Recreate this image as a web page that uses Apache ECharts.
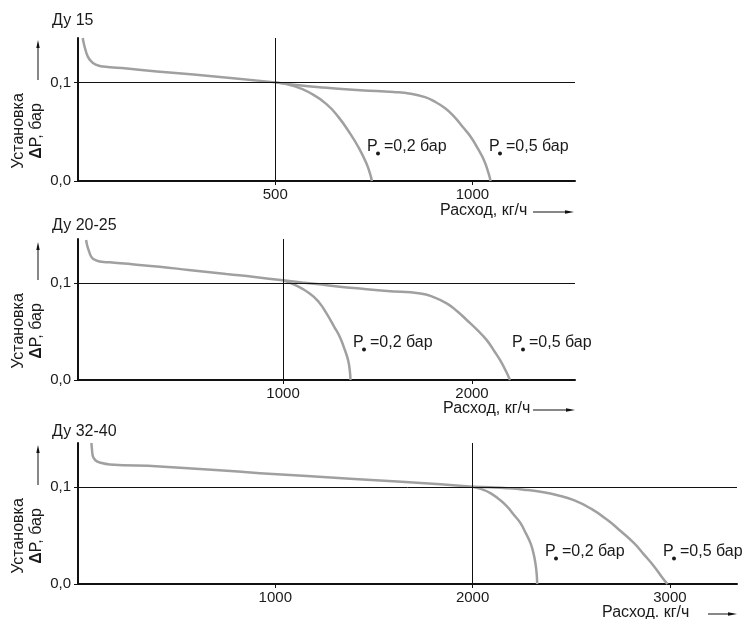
<!DOCTYPE html>
<html><head><meta charset="utf-8">
<script src="https://cdn.jsdelivr.net/npm/echarts@6/dist/echarts.min.js"></script>
<style>html,body{margin:0;padding:0;background:#fff}#c{width:744px;height:619px}</style>
</head><body><div id="c"></div>
<script>
// ---- data ----
const titles = ['Ду 15', 'Ду 20-25', 'Ду 32-40'];
const xTickValues = [[500, 1000], [1000, 2000], [1000, 2000, 3000]];
const yTickValues = [0, 0.1];
const refX = [500, 1000, 2000];
const refY = 0.1;
const xMin = [0, -85, 0];
const xMax = [1260, 2545, 3340];
const yMax = 0.145;
const xNames = ['Расход, кг/ч', 'Расход, кг/ч', 'Расход. кг/ч'];
const curveTexts = ['=0,2 бар', '=0,5 бар'];

const main1 = [[12,0.145],[15,0.139],[19,0.133],[24,0.127],[32,0.122],[45,0.118],[64,0.116],[124,0.114],[200,0.111],[293,0.108],[400,0.104],[500,0.1]];
const p02_1 = [[500,0.1],[550,0.096],[590,0.089],[630,0.078],[660,0.065],[690,0.048],[710,0.035],[730,0.019],[740,0.008],[745,0]];
const p05_1 = [[500,0.1],[560,0.097],[631,0.0946],[716,0.092],[800,0.0902],[843,0.0885],[880,0.085],[902,0.081],[930,0.074],[953,0.0656],[975,0.055],[995,0.0452],[1015,0.032],[1029,0.0214],[1040,0.009],[1046,0]];

const main2 = [[-42,0.144],[-36,0.138],[-26,0.132],[-12,0.126],[11,0.123],[40,0.1215],[82,0.121],[200,0.119],[347,0.1164],[500,0.1132],[700,0.109],[850,0.106],[1000,0.1025]];
const p02_2 = [[1000,0.1025],[1060,0.098],[1141,0.089],[1190,0.080],[1230,0.0685],[1270,0.055],[1300,0.0445],[1325,0.032],[1344,0.0206],[1353,0.01],[1357,0]];
const p05_2 = [[1000,0.1025],[1100,0.1003],[1177,0.0987],[1300,0.096],[1407,0.094],[1550,0.0915],[1727,0.089],[1800,0.085],[1866,0.0788],[1920,0.071],[1972,0.0617],[2030,0.051],[2078,0.041],[2120,0.029],[2148,0.0206],[2180,0.009],[2201,0]];

const main3 = [[68,0.145],[71,0.138],[76,0.131],[90,0.127],[110,0.125],[161,0.123],[415,0.1208],[922,0.114],[1400,0.108],[1837,0.1026],[2000,0.1]];
const p02_3 = [[2000,0.1],[2045,0.0975],[2090,0.0935],[2135,0.087],[2174,0.0798],[2210,0.071],[2242,0.0628],[2270,0.052],[2293,0.0423],[2308,0.032],[2318,0.0217],[2325,0.01],[2327,0]];
const p05_3 = [[2000,0.1],[2090,0.0994],[2175,0.0985],[2260,0.097],[2344,0.0948],[2430,0.0913],[2513,0.0862],[2600,0.0775],[2682,0.066],[2750,0.0545],[2817,0.0422],[2870,0.03],[2919,0.0183],[2960,0.007],[2987,0]];

const panels = [[main1, p02_1, p05_1], [main2, p02_2, p05_2], [main3, p02_3, p05_3]];

// ---- layout / style ----
const FONT = '"Liberation Sans", Arial, sans-serif';
const TXT = '#1a1a1a';
const CURVE = '#a0a0a0';
const grids = [
  {left: 78, top: 38, width: 497, height: 143},
  {left: 78, top: 239, width: 497, height: 141},
  {left: 78, top: 443, width: 659, height: 141}
];
const titlePos = [[52, 21], [52, 226], [52, 432]];
const yNamePos = [[28, 131], [28, 331], [28, 536]];
const yArrow = [[40, 80], [242, 280], [445, 485]];
const xNamePos = [[440, 211, 533, 574], [443, 409, 533, 575], [602, 613, 708, 737]];
const labelPos = [
  [[367, 147], [489, 147]],
  [[353, 343], [512, 343]],
  [[545, 552], [663, 552]]
];

const chart = echarts.init(document.getElementById('c'), null, {renderer: 'canvas'});

const xAxes = [], yAxes = [], series = [], graphic = [];
for (let i = 0; i < 3; i++) {
  xAxes.push({
    type: 'value', gridIndex: i, min: xMin[i], max: xMax[i],
    axisLine: {show: true, lineStyle: {color: '#111', width: 2}},
    axisTick: {show: true, length: 4, inside: false, customValues: xTickValues[i], lineStyle: {color: '#111', width: 1}},
    axisLabel: {show: true, customValues: xTickValues[i], margin: 6, fontSize: 15, fontFamily: FONT, color: TXT,
      formatter: v => String(v)},
    splitLine: {show: false}
  });
  yAxes.push({
    type: 'value', gridIndex: i, min: 0, max: yMax,
    axisLine: {show: true, onZero: false, lineStyle: {color: '#111', width: 2}},
    axisTick: {show: true, length: 4, customValues: yTickValues, lineStyle: {color: '#111', width: 1}},
    axisLabel: {show: true, customValues: yTickValues, margin: 7, fontSize: 15, fontFamily: FONT, color: TXT,
      formatter: v => v.toFixed(1).replace('.', ',')},
    splitLine: {show: false}
  });
  panels[i].forEach((d, k) => {
    const s = {
      type: 'line', xAxisIndex: i, yAxisIndex: i, data: d,
      showSymbol: false, symbol: 'none', smooth: true,
      lineStyle: {color: CURVE, width: 2.5}, silent: true, animation: false, z: 3
    };
    if (k === 0) {
      s.markLine = {
        silent: true, symbol: 'none', animation: false,
        label: {show: false},
        lineStyle: {color: '#111', width: 1, type: 'solid'},
        emphasis: {disabled: true},
        data: [{yAxis: refY}, {xAxis: refX[i]}]
      };
    }
    series.push(s);
  });

  // title
  graphic.push({type: 'text', x: titlePos[i][0], y: titlePos[i][1], silent: true,
    style: {text: titles[i], font: '16px ' + FONT, fill: TXT, align: 'left', verticalAlign: 'middle'}});
  // y name
  graphic.push({type: 'text', x: yNamePos[i][0], y: yNamePos[i][1], rotation: Math.PI / 2, silent: true,
    style: {text: '{a|Установка}\n{b|Δ}{a|P, бар}', align: 'center', verticalAlign: 'middle',
      rich: {a: {fontSize: 16, fontFamily: FONT, fill: TXT, lineHeight: 18},
             b: {fontSize: 16, fontFamily: FONT, fontWeight: 'bold', fill: TXT, lineHeight: 18}}}});
  // y arrow
  graphic.push({type: 'line', silent: true, shape: {x1: 38, y1: yArrow[i][1], x2: 38, y2: yArrow[i][0] + 5},
    style: {stroke: '#111', lineWidth: 1}});
  graphic.push({type: 'polygon', silent: true,
    shape: {points: [[38, yArrow[i][0]], [36.3, yArrow[i][0] + 8], [39.7, yArrow[i][0] + 8]]},
    style: {fill: '#111'}});
  // x name + arrow
  const xp = xNamePos[i];
  graphic.push({type: 'text', x: xp[0], y: xp[1], silent: true,
    style: {text: xNames[i], font: '16px ' + FONT, fill: TXT, align: 'left', verticalAlign: 'middle'}});
  graphic.push({type: 'line', silent: true, shape: {x1: xp[2], y1: xp[1] + 1, x2: xp[3] - 5, y2: xp[1] + 1},
    style: {stroke: '#111', lineWidth: 1}});
  graphic.push({type: 'polygon', silent: true,
    shape: {points: [[xp[3], xp[1] + 1], [xp[3] - 9, xp[1] - 0.7], [xp[3] - 9, xp[1] + 2.7]]},
    style: {fill: '#111'}});
  // curve labels
  labelPos[i].forEach((p, k) => {
    graphic.push({type: 'text', x: p[0], y: p[1], silent: true,
      style: {text: 'P', font: '16px ' + FONT, fill: TXT, align: 'left', verticalAlign: 'middle'}});
    graphic.push({type: 'circle', silent: true, shape: {cx: p[0] + 11, cy: p[1] + 6.5, r: 2}, style: {fill: TXT}});
    graphic.push({type: 'text', x: p[0] + 17, y: p[1], silent: true,
      style: {text: curveTexts[k], font: '16px ' + FONT, fill: TXT, align: 'left', verticalAlign: 'middle'}});
  });
}

chart.setOption({
  animation: false,
  backgroundColor: '#fff',
  grid: grids,
  xAxis: xAxes,
  yAxis: yAxes,
  series: series,
  graphic: graphic
});
</script>
</body></html>
